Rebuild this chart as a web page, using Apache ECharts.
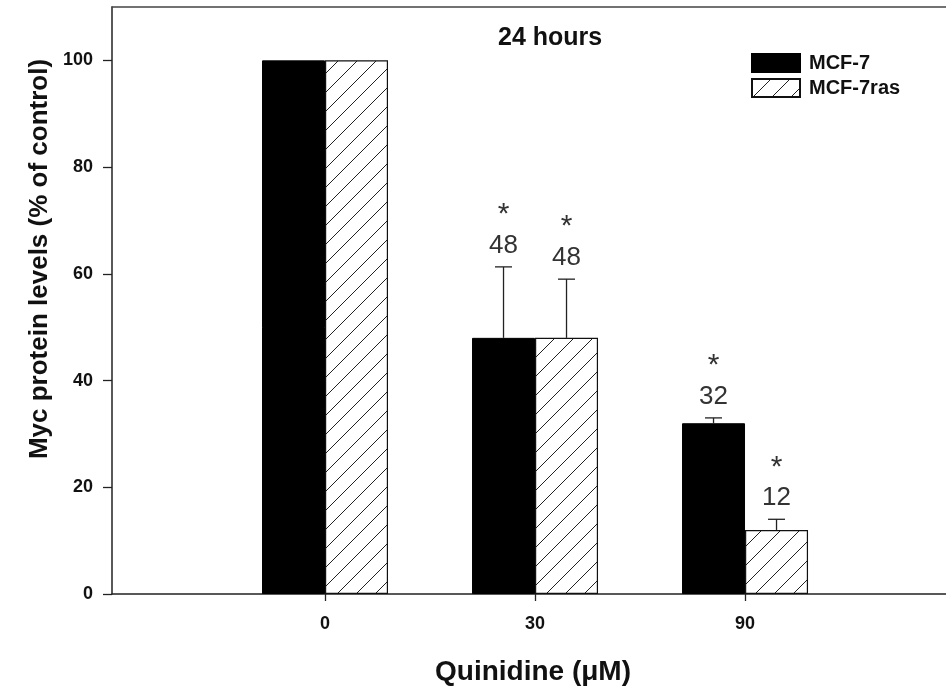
<!DOCTYPE html>
<html><head><meta charset="utf-8">
<script src="https://cdn.jsdelivr.net/npm/echarts@6/dist/echarts.min.js"></script>
<style>html,body{margin:0;padding:0;background:#fff}#c{width:946px;height:694px}</style>
</head><body><div id="c"></div>
<script>
const categories = ['0', '30', '90'];
const xPositions = [1, 2, 3];
const seriesNames = ['MCF-7', 'MCF-7ras'];
const mcf7 = [100, 48, 32];
const mcf7Err = [0, 13.3, 1.0];
const mcf7Labels = ['', '48', '32'];
const mcf7Sig = [false, true, true];
const mcf7ras = [100, 48, 12];
const mcf7rasErr = [0, 11.0, 2.0];
const mcf7rasLabels = ['', '48', '12'];
const mcf7rasSig = [false, true, true];
const yTicks = [0, 20, 40, 60, 80, 100];
const titleText = '24 hours';
const xName = 'Quinidine (\u03bcM)';
const yName = 'Myc protein levels (% of control)';

const BAR_W = 63;
const FONT = 'Arial, "Liberation Sans", sans-serif';

function hatchPattern(){
  const s = 19;
  const c = document.createElement('canvas'); c.width = s; c.height = s;
  const g = c.getContext('2d');
  g.fillStyle = '#fff'; g.fillRect(0,0,s,s);
  g.strokeStyle = '#222'; g.lineWidth = 1;
  g.beginPath();
  g.moveTo(-4, s+4); g.lineTo(s+4, -4);
  g.moveTo(-4, 4); g.lineTo(4, -4);
  g.moveTo(s-4, s+4); g.lineTo(s+4, s-4);
  g.stroke();
  return c;
}
const hatch = {image: hatchPattern(), repeat: 'repeat'};

function errSeries(vals, errs, labels, sig, side){
  return {
    type: 'custom',
    silent: true,
    z: 5,
    data: xPositions.map((x,i)=>[x, vals[i], vals[i]+errs[i], i]),
    renderItem: function(params, api){
      const i = api.value(3);
      const base = api.coord([api.value(0), api.value(1)]);
      const top = api.coord([api.value(0), api.value(2)]);
      const cx = base[0] + side * BAR_W/2;
      const children = [];
      if (errs[i] > 0) {
        children.push({type:'line', shape:{x1:cx, y1:base[1], x2:cx, y2:top[1]}, style:{stroke:'#222', lineWidth:1.3}});
        children.push({type:'line', shape:{x1:cx-8.5, y1:top[1], x2:cx+8.5, y2:top[1]}, style:{stroke:'#222', lineWidth:1.3}});
      }
      if (labels[i]) {
        children.push({type:'text', style:{text: labels[i], x: cx, y: top[1]-21, align:'center', verticalAlign:'middle', font:'26px '+FONT, fill:'#333'}});
      }
      if (sig[i]) {
        children.push({type:'text', style:{text: '*', x: cx, y: top[1]-52, align:'center', verticalAlign:'middle', font:'30px '+FONT, fill:'#333'}});
      }
      return {type:'group', children};
    }
  };
}

const chart = echarts.init(document.getElementById('c'), null, {renderer:'canvas'});
chart.setOption({
  animation: false,
  backgroundColor: '#fff',
  graphic: [
    {type:'text', left: 498, top: 26, style:{text: titleText, font:'bold 25px '+FONT, fill:'#111'}},
    {type:'text', x: 40, y: 259, rotation: Math.PI/2, style:{text: yName, align:'center', verticalAlign:'middle', font:'bold 26px '+FONT, fill:'#111'}}
  ],
  legend: {
    orient: 'vertical', left: 746, top: 48, itemWidth: 48, itemHeight: 18, itemGap: 5,
    icon: 'rect',
    data: seriesNames,
    textStyle: {fontFamily: FONT, fontWeight: 'bold', fontSize: 20, color: '#111', padding: [0,0,0,4]}
  },
  grid: {left: 112, top: 7, right: 0, bottom: 100},
  xAxis: [{
    type: 'value', min: -0.0143, max: 3.957,
    splitLine: {show: false},
    axisLine: {show: true, onZero: false, lineStyle: {color: '#222', width: 1.5}},
    axisTick: {show: true, length: 7, customValues: xPositions, lineStyle: {color: '#222', width: 1.3}},
    axisLabel: {
      customValues: xPositions,
      formatter: v => categories[xPositions.indexOf(v)] ?? '',
      margin: 21, fontFamily: FONT, fontWeight: 'bold', fontSize: 18, color: '#111'
    },
    name: xName, nameLocation: 'middle', nameGap: 64,
    nameTextStyle: {fontFamily: FONT, fontWeight: 'bold', fontSize: 28, color: '#111', padding: [0,0,0,8]}
  }, {
    type: 'value', position: 'top', min: -0.0143, max: 3.957,
    splitLine: {show: false}, axisTick: {show: false}, axisLabel: {show: false},
    axisLine: {show: true, onZero: false, lineStyle: {color: '#444', width: 1.5}}
  }],
  yAxis: {
    type: 'value', min: 0, max: 110,
    splitLine: {show: false},
    axisLine: {show: true, onZero: false, lineStyle: {color: '#222', width: 1.5}},
    axisTick: {show: true, length: 9, customValues: yTicks, lineStyle: {color: '#222', width: 1.3}},
    axisLabel: {
      customValues: yTicks,
      margin: 19, fontFamily: FONT, fontWeight: 'bold', fontSize: 18, color: '#111'
    }
  },
  series: [
    {
      name: seriesNames[0], type: 'bar', barWidth: BAR_W, barGap: '0%',
      data: xPositions.map((x,i)=>[x, mcf7[i]]),
      itemStyle: {color: '#000', borderColor: '#000', borderWidth: 1}
    },
    {
      name: seriesNames[1], type: 'bar', barWidth: BAR_W, barGap: '0%',
      data: xPositions.map((x,i)=>[x, mcf7ras[i]]),
      itemStyle: {color: hatch, borderColor: '#111', borderWidth: 1.2}
    },
    errSeries(mcf7, mcf7Err, mcf7Labels, mcf7Sig, -1),
    errSeries(mcf7ras, mcf7rasErr, mcf7rasLabels, mcf7rasSig, 1)
  ]
});
</script></body></html>
